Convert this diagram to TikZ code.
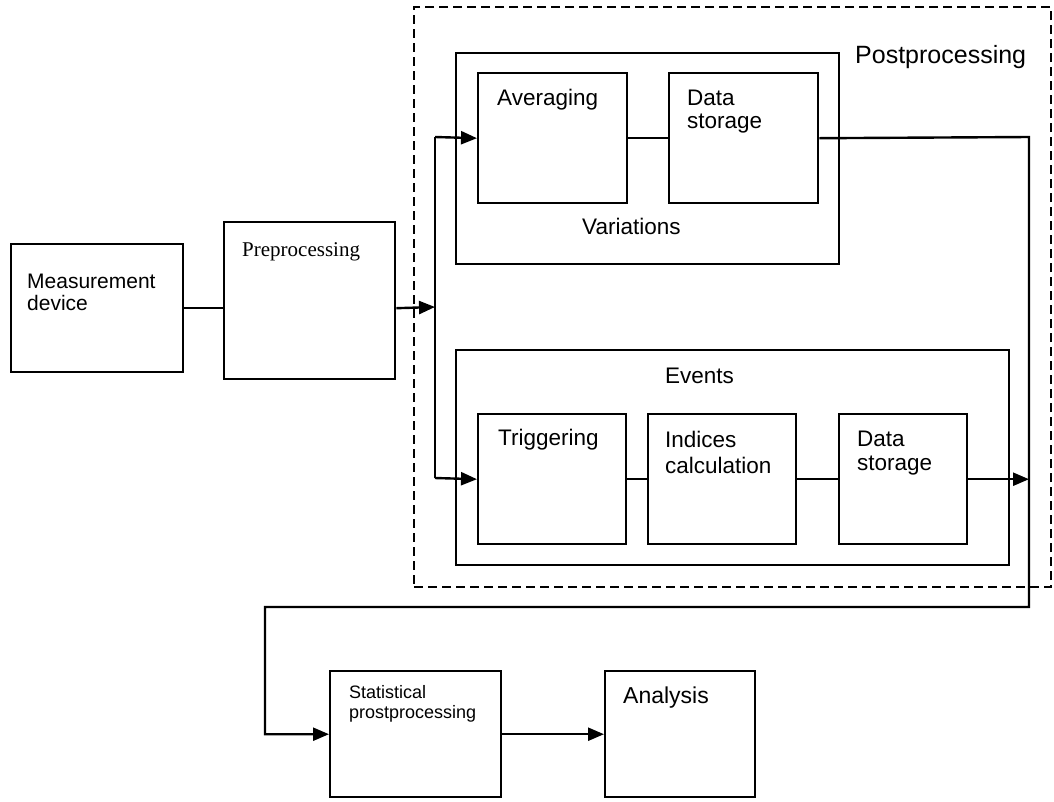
\documentclass[tikz,border=0pt]{standalone}
\usepackage{fontspec}
\setmainfont{Liberation Sans}
\newfontfamily\timesx{Liberation Serif}
\usetikzlibrary{arrows.meta,calc}
\begin{document}
\begin{tikzpicture}[x=1pt,y=-1pt,
  box/.style={draw, line width=2.4pt, rectangle, inner sep=0pt, anchor=north west},
  dashbox/.style={box, line width=2.2pt, dash pattern=on 9pt off 5pt},
  lbl/.style={anchor=north west, inner sep=0pt, align=left, font=\fontsize{22.5}{24}\selectfont},
  conn/.style={line width=2.4pt},
  arr/.style={line width=2.4pt, -{Triangle[length=16pt,width=13pt]}}
]
\useasboundingbox (0,0) rectangle (1054,801);
% boxes
\node[dashbox, minimum width=637pt, minimum height=580pt] (post) at (413,6) {};
\node[box, minimum width=383pt, minimum height=211pt] (var) at (455,52) {};
\node[box, minimum width=149pt, minimum height=130pt] (avg) at (477,72) {};
\node[box, minimum width=149pt, minimum height=130pt] (ds1) at (668,72) {};
\node[box, minimum width=172pt, minimum height=128pt] (meas) at (10,243) {};
\node[box, minimum width=171pt, minimum height=157pt] (pre) at (223,221) {};
\node[box, minimum width=553pt, minimum height=215pt] (ev) at (455,349) {};
\node[box, minimum width=148pt, minimum height=130pt] (trig) at (477,413) {};
\node[box, minimum width=148pt, minimum height=130pt] (ind) at (647,413) {};
\node[box, minimum width=128pt, minimum height=130pt] (ds2) at (838,413) {};
\node[box, minimum width=171pt, minimum height=126pt] (stat) at (329,670) {};
\node[box, minimum width=150pt, minimum height=126pt] (ana) at (604,670) {};
% labels
\node[lbl, font=\fontsize{25}{27}\selectfont] (tpost) at (855,45) {Postprocessing};
\node[lbl] (tavg) at (497,89) {Averaging};
\node[lbl, font=\fontsize{22.5}{23}\selectfont] (tds1) at (687,90) {Data\\storage};
\node[lbl] (tvar) at (582,218) {Variations};
\node[lbl, font=\fontsize{21}{22}\selectfont] (tmeas) at (27,274) {Measurement\\device};
\node[lbl, font=\fontsize{21}{22}\timesx\selectfont] (tpre) at (242,242) {Preprocessing};
\node[lbl] (tev) at (665,368) {Events};
\node[lbl] (ttrig) at (498,429) {Triggering};
\node[lbl, font=\fontsize{22.5}{26}\selectfont] (tind) at (665,431) {Indices\\calculation};
\node[lbl, font=\fontsize{22.5}{24}\selectfont] (tds2) at (857,431) {Data\\storage};
\node[lbl, font=\fontsize{18}{20}\selectfont] (tstat) at (349,685) {Statistical\\prostprocessing};
\node[lbl, font=\fontsize{23}{25}\selectfont] (tana) at (623,687) {Analysis};
% connector points
\coordinate (splitTop) at (435,137);
\coordinate (splitBot) at (435,478);
\coordinate (splitMid) at (435,307);
\coordinate (rt) at (1029,137);
\coordinate (rb) at (1029,607);
\coordinate (lb) at (265,607);
% connectors
\draw[conn] (meas.east) -- (meas.east -| pre.west);
\draw[arr] (meas.east -| pre.east) -- (splitMid);
\draw[conn] (splitTop) -- (splitBot);
\draw[arr] (splitTop) -- (avg.west);
\draw[arr] (splitBot) -- (trig.west);
\draw[conn] (avg.east) -- (ds1.west);
\draw[conn] (trig.east) -- (ind.west);
\draw[conn] (ind.east) -- (ds2.west);
\draw[arr] (ds2.east) -- (ds2.east -| rt);
\draw[arr] (ds1.east) -- (rt) -- (rb) -- (lb) -- (lb |- stat.west) -- (stat.west);
\draw[arr] (stat.east) -- (ana.west);
\end{tikzpicture}
\end{document}
